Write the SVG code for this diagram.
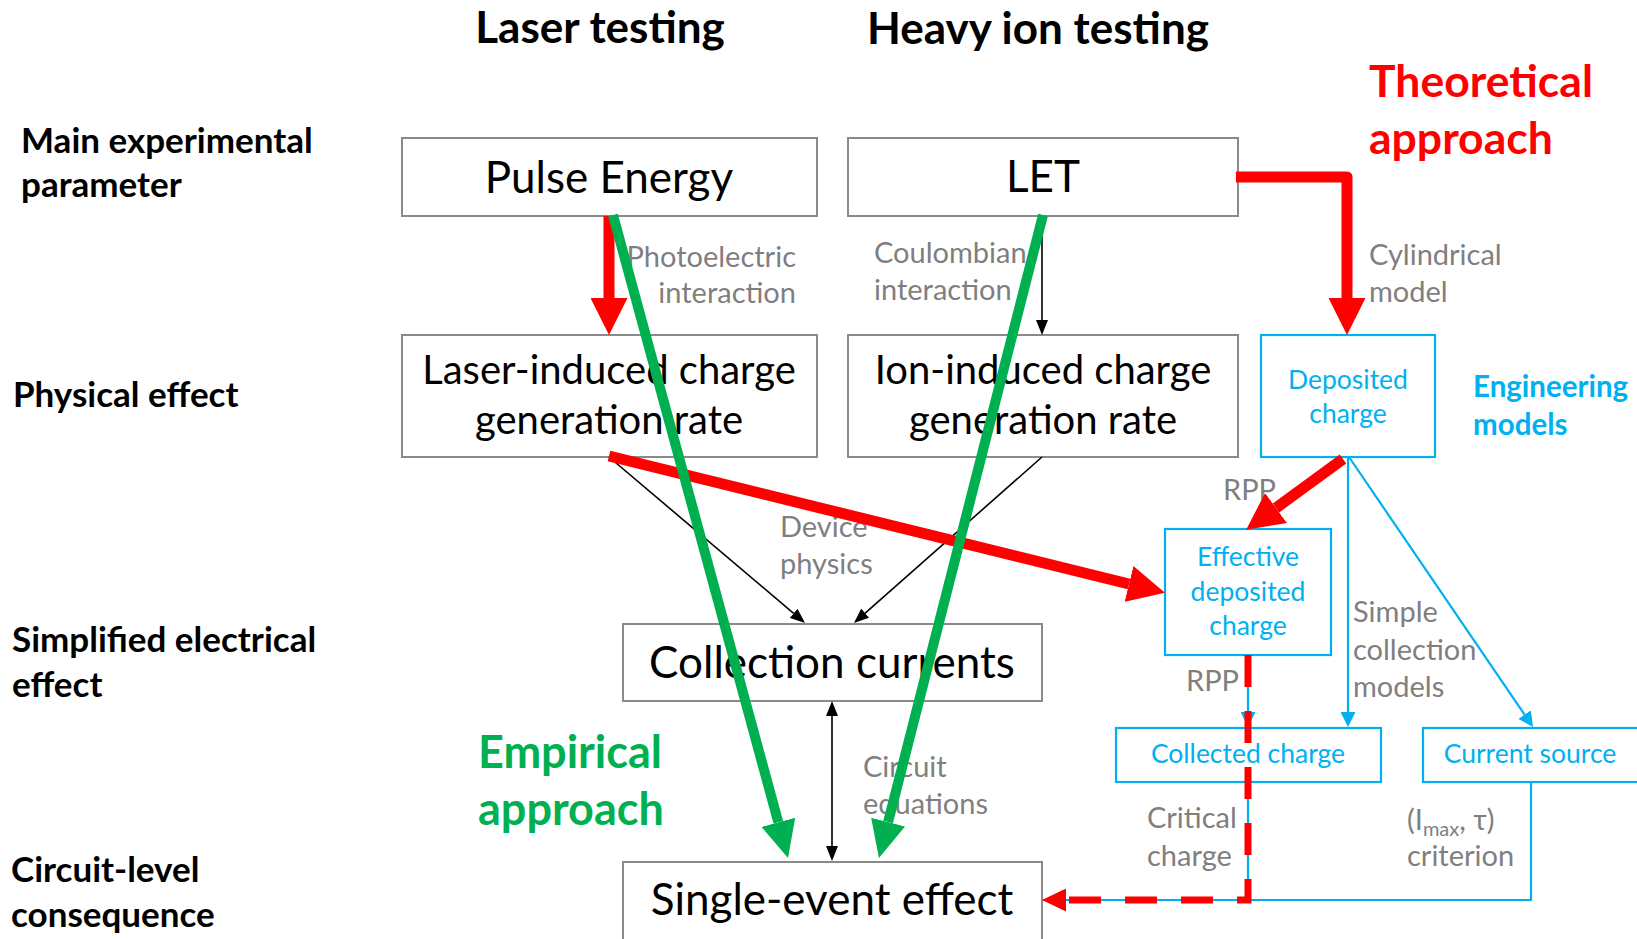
<svg xmlns="http://www.w3.org/2000/svg" width="1637" height="939" viewBox="0 0 1637 939">
  <style>
    text { font-family: Lato, "Liberation Sans", sans-serif; }
    .hdr { font-size: 44px; font-weight: bold; fill: #000; text-anchor: middle; }
    .lvl { font-size: 35px; font-weight: bold; fill: #000; }
    .box { fill: #fff; stroke: #8a8a8a; stroke-width: 2; }
    .bbox { fill: #fff; stroke: #00b0f0; stroke-width: 2.2; }
    .ntx { font-size: 44px; fill: #000; text-anchor: middle; }
    .ntx2 { font-size: 40px; fill: #000; text-anchor: middle; }
    .btx { font-size: 26.5px; fill: #00b0f0; text-anchor: middle; }
    .lbl { font-size: 29px; fill: #7f7f7f; }
    .thin { fill: none; stroke: #000; stroke-width: 1.6; }
    .blue { fill: none; stroke: #00b0f0; stroke-width: 2.2; }
    .red { fill: none; stroke: #ff0000; stroke-width: 11; }
    .dash { fill: none; stroke: #ff0000; stroke-width: 7; stroke-dasharray: 32 24; }
    .green { fill: none; stroke: #00b050; stroke-width: 10; }
  </style>
  <defs>
    <marker id="ah-black" markerUnits="userSpaceOnUse" viewBox="0 0 15 12" markerWidth="15" markerHeight="12" refX="0" refY="6" orient="auto-start-reverse">
      <path d="M0,0 L15,6 L0,12 Z" fill="#000"/>
    </marker>
    <marker id="ah-blue" markerUnits="userSpaceOnUse" viewBox="0 0 15 15" markerWidth="15" markerHeight="15" refX="0" refY="7.5" orient="auto">
      <path d="M0,0 L15,7.5 L0,15 Z" fill="#00b0f0"/>
    </marker>
    <marker id="ah-red" markerUnits="userSpaceOnUse" viewBox="0 0 37 37" markerWidth="37" markerHeight="37" refX="0" refY="18.5" orient="auto">
      <path d="M0,0 L37,18.5 L0,37 Z" fill="#ff0000"/>
    </marker>
    <marker id="ah-red-small" markerUnits="userSpaceOnUse" viewBox="0 0 24 23" markerWidth="24" markerHeight="23" refX="0" refY="11.5" orient="auto">
      <path d="M0,0 L24,11.5 L0,23 Z" fill="#ff0000"/>
    </marker>
    <marker id="ah-green" markerUnits="userSpaceOnUse" viewBox="0 0 37 35" markerWidth="37" markerHeight="35" refX="0" refY="17.5" orient="auto">
      <path d="M0,0 L37,17.5 L0,35 Z" fill="#00b050"/>
    </marker>
  </defs>

  <!-- column and row headings -->
  <g id="headings">
    <text class="hdr" x="600" y="43">Laser testing</text>
    <text class="hdr" x="1038" y="44">Heavy ion testing</text>
    <text class="lvl" x="21" y="153">Main experimental</text>
    <text class="lvl" x="21" y="197">parameter</text>
    <text class="lvl" x="13" y="407">Physical effect</text>
    <text class="lvl" x="12" y="652">Simplified electrical</text>
    <text class="lvl" x="12" y="697">effect</text>
    <text class="lvl" x="11" y="882">Circuit-level</text>
    <text class="lvl" x="11" y="927">consequence</text>
  </g>

  <!-- approach captions -->
  <g id="approaches" font-weight="bold">
    <text x="1369" y="97" font-size="44.5" fill="#ff0000">Theoretical</text>
    <text x="1369" y="154" font-size="44.5" fill="#ff0000">approach</text>
    <text x="1473" y="397" font-size="29.5" fill="#00b0f0">Engineering</text>
    <text x="1473" y="435" font-size="29.5" fill="#00b0f0">models</text>
    <text x="478" y="768" font-size="45" fill="#00b050">Empirical</text>
    <text x="478" y="825" font-size="45" fill="#00b050">approach</text>
  </g>

  <!-- black nodes -->
  <g id="pulse-energy">
    <rect class="box" x="402" y="138" width="415" height="78"/>
    <text class="ntx" x="609" y="193">Pulse Energy</text>
  </g>
  <g id="let">
    <rect class="box" x="848" y="138" width="390" height="78"/>
    <text class="ntx" x="1043" y="192">LET</text>
  </g>
  <g id="laser-generation">
    <rect class="box" x="402" y="335" width="415" height="122"/>
    <text class="ntx2" x="609" y="384">Laser-induced charge</text>
    <text class="ntx2" x="609" y="434">generation rate</text>
  </g>
  <g id="ion-generation">
    <rect class="box" x="848" y="335" width="390" height="122"/>
    <text class="ntx2" x="1043" y="384">Ion-induced charge</text>
    <text class="ntx2" x="1043" y="434">generation rate</text>
  </g>
  <g id="collection-currents">
    <rect class="box" x="623" y="624" width="419" height="77"/>
    <text class="ntx" x="832" y="678">Collection currents</text>
  </g>
  <g id="single-event-effect">
    <rect class="box" x="623" y="862" width="419" height="80"/>
    <text class="ntx" x="832" y="915">Single-event effect</text>
  </g>

  <!-- engineering-model nodes -->
  <g id="deposited-charge">
    <rect class="bbox" x="1261" y="335" width="174" height="122"/>
    <text class="btx" x="1348" y="389">Deposited</text>
    <text class="btx" x="1348" y="423">charge</text>
  </g>
  <g id="effective-deposited-charge">
    <rect class="bbox" x="1165" y="529" width="166" height="126"/>
    <text class="btx" x="1248" y="566">Effective</text>
    <text class="btx" x="1248" y="601">deposited</text>
    <text class="btx" x="1248" y="635">charge</text>
  </g>
  <g id="collected-charge">
    <rect class="bbox" x="1116" y="728" width="265" height="54"/>
    <text class="btx" x="1248" y="763">Collected charge</text>
  </g>
  <g id="current-source">
    <rect class="bbox" x="1423" y="728" width="216" height="54"/>
    <text class="btx" x="1530" y="763">Current source</text>
  </g>

  <!-- edge labels -->
  <g id="edge-labels" class="lbl">
    <text x="796" y="267" text-anchor="end">Photoelectric</text>
    <text x="796" y="303" text-anchor="end">interaction</text>
    <text x="874" y="263">Coulombian</text>
    <text x="874" y="300">interaction</text>
    <text x="1369" y="265">Cylindrical</text>
    <text x="1369" y="302">model</text>
    <text x="780" y="537">Device</text>
    <text x="780" y="574">physics</text>
    <text x="1223" y="500">RPP</text>
    <text x="1186" y="691">RPP</text>
    <text x="1353" y="622">Simple</text>
    <text x="1353" y="660">collection</text>
    <text x="1353" y="697">models</text>
    <text x="863" y="777">Circuit</text>
    <text x="863" y="814">equations</text>
    <text x="1147" y="828">Critical</text>
    <text x="1147" y="866">charge</text>
    <text x="1407" y="830">(I<tspan font-size="20" dy="6">max</tspan><tspan dy="-6">, τ)</tspan></text>
    <text x="1407" y="866">criterion</text>
  </g>

  <!-- connectors -->
  <g id="connectors">
    <!-- physics links -->
    <path class="thin" d="M1042,216 V320" marker-end="url(#ah-black)"/>
    <path class="thin" d="M609,457 L793.6,613.3" marker-end="url(#ah-black)"/>
    <path class="thin" d="M1042,457 L865.2,613.1" marker-end="url(#ah-black)"/>
    <path class="thin" d="M832,716 V846" marker-start="url(#ah-black)" marker-end="url(#ah-black)"/>

    <!-- engineering model links -->
    <path class="blue" d="M1248,655 V712" marker-end="url(#ah-blue)"/>
    <path class="blue" d="M1348,457 V712" marker-end="url(#ah-blue)"/>
    <path class="blue" d="M1349,457 L1524.6,714.6" marker-end="url(#ah-blue)"/>
    <path class="blue" d="M1531,782 V900 H1043"/>
    <path class="blue" d="M1248,782 V900"/>

    <!-- theoretical path -->
    <path class="red" d="M609,216 V298" marker-end="url(#ah-red)"/>
    <path class="red" d="M1236,177 H1347 V298" stroke-linejoin="round" marker-end="url(#ah-red)"/>
    <path class="red" d="M1343,459 L1276,508" marker-end="url(#ah-red)"/>
    <path class="red" d="M609,456 L1129,584" marker-end="url(#ah-red)"/>
    <path class="dash" d="M1248,655 V900 H1066" marker-end="url(#ah-red-small)"/>

    <!-- empirical path -->
    <path class="green" d="M613,215 L778.3,822.3" marker-end="url(#ah-green)"/>
    <path class="green" d="M1043,215 L888.1,822.1" marker-end="url(#ah-green)"/>
  </g>
</svg>
